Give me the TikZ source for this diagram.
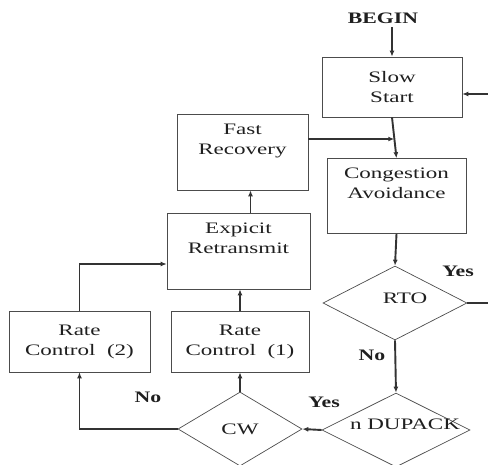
\documentclass[tikz,border=0pt]{standalone}
\usepackage{fontspec}
\setmainfont[FakeStretch=1.44]{Liberation Serif}
\newfontfamily\lblfont[FakeStretch=1.36]{Liberation Serif}
\usetikzlibrary{positioning, shapes.geometric, arrows.meta, calc}

\begin{document}
\begin{tikzpicture}[x=1pt, y=-1pt, font=\fontsize{16}{20}\selectfont, text=black!88,
    box/.style={draw=black!70, line width=0.7pt, align=center, inner sep=0pt},
    dec/.style={draw=black!70, line width=0.7pt, diamond, inner sep=0pt},
    lbl/.style={font=\fontsize{16}{20}\lblfont\bfseries},
    arr/.style={-{Latex[length=6pt, width=5pt]}, line width=1.9pt, draw=black!80},
    thinarr/.style={arr, line width=1.1pt}]
      \useasboundingbox (0,0) rectangle (488,464);

      \node[lbl] (BEGIN) at (383, 18) {BEGIN};

      \node[box, minimum width=140pt, minimum height=60pt] (SS)  at (392, 87)    {Slow\\Start};
      \node[box, minimum width=131pt, minimum height=76pt] (FR)  at (242.5, 152) {Fast\\Recovery\\\strut};
      \node[box, minimum width=139pt, minimum height=75pt] (CA)  at (396.5, 196) {Congestion\\Avoidance\\\strut};
      \node[box, minimum width=143pt, minimum height=76pt] (ER)  at (238.5, 251) {Expicit\\Retransmit\\\strut};
      \node[box, minimum width=141pt, minimum height=61pt] (RC2) at (79.5, 341.5) {Rate\\Control\ \ (2)};
      \node[box, minimum width=138pt, minimum height=61pt] (RC1) at (240, 341.5)  {Rate\\Control\ \ (1)};

      \node[dec, minimum width=144pt, minimum height=74pt,
            label={[xshift=10pt, yshift=5pt]center:RTO}]      (RTO) at (395, 303) {};
      \node[dec, minimum width=148pt, minimum height=74pt,
            label={[xshift=9pt, yshift=6pt]center:n DUPACK}] (DUP) at (396, 430) {};
      \node[dec, minimum width=124pt, minimum height=74pt,
            label={center:CW}]                                (CW)  at (240, 429) {};

      \node[lbl] (Y1) at (458, 271) {Yes};
      \node[lbl] (N1) at (372, 355) {No};
      \node[lbl] (Y2) at (324, 402) {Yes};
      \node[lbl] (N2) at (148, 397) {No};

      \coordinate (fr) at ([yshift=13pt]FR.east);
      \coordinate (jn) at ($(SS.south)!0.5!(CA.north)$);

      \draw[arr] (BEGIN.south -| SS.north) -- (SS.north);
      \draw[arr] (SS.south) -- (CA.north);
      \draw[arr] (fr) -- (fr -| jn);
      \draw[arr] ([xshift=12pt]ER.north) -- ([xshift=8pt]FR.south);
      \draw[arr] (RC1.north) -- (RC1.north |- ER.south);
      \draw[thinarr] (RC2.north) |- ([yshift=-13pt]ER.west);
      \draw[arr] (CA.south) -- (RTO.north);
      \draw[arr] (RTO.south) -- (DUP.north);
      \draw[thinarr] (RTO.east) -- ++(25,0) |- ([yshift=-7pt]SS.east);
      \draw[arr] (DUP.west) -- (CW.east);
      \draw[arr] (CW.north) -- (RC1.south);
      \draw[thinarr] (CW.west) -| (RC2.south);
    \end{tikzpicture}
\end{document}
